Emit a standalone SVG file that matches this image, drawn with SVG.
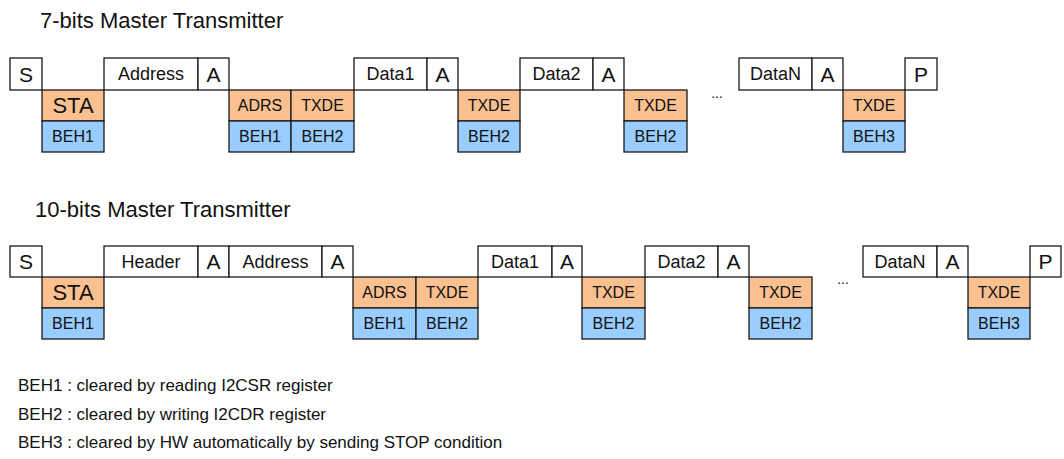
<svg xmlns="http://www.w3.org/2000/svg" width="1064" height="459" viewBox="0 0 1064 459">
<style>
rect{stroke:#1a1a1a;stroke-width:1.3}
rect.bg{fill:#fff;stroke:none}
.w{fill:#fff}
.o{fill:#FAC090}
.b{fill:#99CCFF}
text{font-family:"Liberation Sans",Arial,sans-serif;fill:#111;text-anchor:middle}
.t{font-size:22px;text-anchor:start}
.lg{font-size:17px;text-anchor:start}
.f{font-size:18px}
.l{font-size:21px}
.s{font-size:16px}
.st{font-size:22px}
.d{font-size:14px}
</style>
<rect class="bg" x="0" y="0" width="1064" height="459"/>
<text class="t" x="40" y="28">7-bits Master Transmitter</text>
<text class="t" x="35" y="217">10-bits Master Transmitter</text>

<!-- Row 1: 7-bit -->
<g id="r1-S"><rect class="w" x="10" y="58" width="32" height="32"/><text class="l" x="26" y="81.5">S</text></g>
<g id="r1-STA"><rect class="o" x="42" y="90" width="62" height="31"/><text class="st" x="73" y="113.4">STA</text><rect class="b" x="42" y="121" width="62" height="31"/><text class="s" x="73" y="142.2">BEH1</text></g>
<g id="r1-Address"><rect class="w" x="104" y="58" width="94" height="32"/><text class="f" x="151" y="80.4">Address</text></g>
<g id="r1-A1"><rect class="w" x="198" y="58" width="31" height="32"/><text class="l" x="213.5" y="81.5">A</text></g>
<g id="r1-ADRS"><rect class="o" x="229" y="90" width="62" height="31"/><text class="s" x="260" y="111.2">ADRS</text><rect class="b" x="229" y="121" width="62" height="31"/><text class="s" x="260" y="142.2">BEH1</text></g>
<g id="r1-TXDE1"><rect class="o" x="291" y="90" width="63" height="31"/><text class="s" x="322.5" y="111.2">TXDE</text><rect class="b" x="291" y="121" width="63" height="31"/><text class="s" x="322.5" y="142.2">BEH2</text></g>
<g id="r1-Data1"><rect class="w" x="354" y="58" width="73" height="32"/><text class="f" x="390.5" y="80.4">Data1</text></g>
<g id="r1-A2"><rect class="w" x="427" y="58" width="31" height="32"/><text class="l" x="442.5" y="81.5">A</text></g>
<g id="r1-TXDE2"><rect class="o" x="458" y="90" width="62" height="31"/><text class="s" x="489" y="111.2">TXDE</text><rect class="b" x="458" y="121" width="62" height="31"/><text class="s" x="489" y="142.2">BEH2</text></g>
<g id="r1-Data2"><rect class="w" x="520" y="58" width="73" height="32"/><text class="f" x="556.5" y="80.4">Data2</text></g>
<g id="r1-A3"><rect class="w" x="593" y="58" width="31" height="32"/><text class="l" x="608.5" y="81.5">A</text></g>
<g id="r1-TXDE3"><rect class="o" x="624" y="90" width="63" height="31"/><text class="s" x="655.5" y="111.2">TXDE</text><rect class="b" x="624" y="121" width="63" height="31"/><text class="s" x="655.5" y="142.2">BEH2</text></g>
<g id="r1-dots"><text class="d" x="717" y="98">...</text></g>
<g id="r1-DataN"><rect class="w" x="739" y="58" width="73" height="32"/><text class="f" x="775.5" y="80.4">DataN</text></g>
<g id="r1-A4"><rect class="w" x="812" y="58" width="31" height="32"/><text class="l" x="827.5" y="81.5">A</text></g>
<g id="r1-TXDE4"><rect class="o" x="843" y="90" width="62" height="31"/><text class="s" x="874" y="111.2">TXDE</text><rect class="b" x="843" y="121" width="62" height="31"/><text class="s" x="874" y="142.2">BEH3</text></g>
<g id="r1-P"><rect class="w" x="905" y="58" width="32" height="32"/><text class="l" x="921" y="81.5">P</text></g>

<!-- Row 2: 10-bit -->
<g id="r2-S"><rect class="w" x="10" y="246" width="32" height="31"/><text class="l" x="26" y="269">S</text></g>
<g id="r2-STA"><rect class="o" x="42" y="277" width="62" height="31"/><text class="st" x="73" y="300.4">STA</text><rect class="b" x="42" y="308" width="62" height="31"/><text class="s" x="73" y="329.2">BEH1</text></g>
<g id="r2-Header"><rect class="w" x="104" y="246" width="94" height="31"/><text class="f" x="151" y="267.9">Header</text></g>
<g id="r2-A1"><rect class="w" x="198" y="246" width="31" height="31"/><text class="l" x="213.5" y="269">A</text></g>
<g id="r2-Address"><rect class="w" x="229" y="246" width="93" height="31"/><text class="f" x="275.5" y="267.9">Address</text></g>
<g id="r2-A2"><rect class="w" x="322" y="246" width="31" height="31"/><text class="l" x="337.5" y="269">A</text></g>
<g id="r2-ADRS"><rect class="o" x="353" y="277" width="63" height="31"/><text class="s" x="384.5" y="298.2">ADRS</text><rect class="b" x="353" y="308" width="63" height="31"/><text class="s" x="384.5" y="329.2">BEH1</text></g>
<g id="r2-TXDE1"><rect class="o" x="416" y="277" width="62" height="31"/><text class="s" x="447" y="298.2">TXDE</text><rect class="b" x="416" y="308" width="62" height="31"/><text class="s" x="447" y="329.2">BEH2</text></g>
<g id="r2-Data1"><rect class="w" x="478" y="246" width="74" height="31"/><text class="f" x="515" y="267.9">Data1</text></g>
<g id="r2-A3"><rect class="w" x="552" y="246" width="30" height="31"/><text class="l" x="567" y="269">A</text></g>
<g id="r2-TXDE2"><rect class="o" x="582" y="277" width="63" height="31"/><text class="s" x="613.5" y="298.2">TXDE</text><rect class="b" x="582" y="308" width="63" height="31"/><text class="s" x="613.5" y="329.2">BEH2</text></g>
<g id="r2-Data2"><rect class="w" x="645" y="246" width="73" height="31"/><text class="f" x="681.5" y="267.9">Data2</text></g>
<g id="r2-A4"><rect class="w" x="718" y="246" width="31" height="31"/><text class="l" x="733.5" y="269">A</text></g>
<g id="r2-TXDE3"><rect class="o" x="749" y="277" width="63" height="31"/><text class="s" x="780.5" y="298.2">TXDE</text><rect class="b" x="749" y="308" width="63" height="31"/><text class="s" x="780.5" y="329.2">BEH2</text></g>
<g id="r2-dots"><text class="d" x="843" y="284">...</text></g>
<g id="r2-DataN"><rect class="w" x="863" y="246" width="74" height="31"/><text class="f" x="900" y="267.9">DataN</text></g>
<g id="r2-A5"><rect class="w" x="937" y="246" width="31" height="31"/><text class="l" x="952.5" y="269">A</text></g>
<g id="r2-TXDE4"><rect class="o" x="968" y="277" width="62" height="31"/><text class="s" x="999" y="298.2">TXDE</text><rect class="b" x="968" y="308" width="62" height="31"/><text class="s" x="999" y="329.2">BEH3</text></g>
<g id="r2-P"><rect class="w" x="1030" y="246" width="31" height="31"/><text class="l" x="1045.5" y="269">P</text></g>

<!-- Legend -->
<g id="legend">
<text class="lg" x="18" y="391">BEH1 : cleared by reading I2CSR register</text>
<text class="lg" x="18" y="420">BEH2 : cleared by writing I2CDR register</text>
<text class="lg" x="18" y="448">BEH3 : cleared by HW automatically by sending STOP condition</text>
</g>
</svg>
